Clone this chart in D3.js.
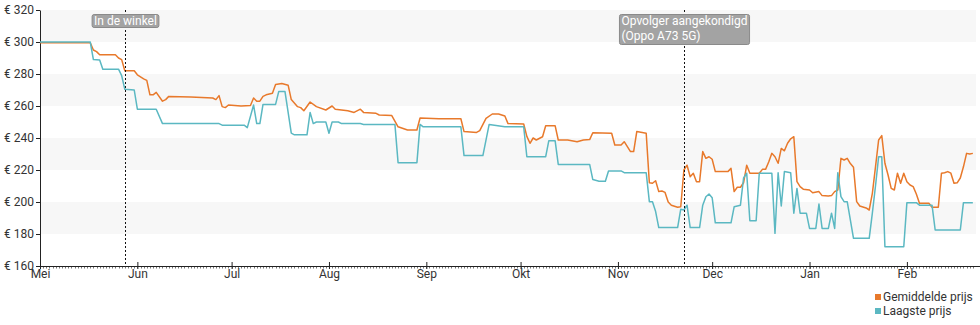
<!DOCTYPE html>
<html><head><meta charset="utf-8">
<script src="https://cdn.jsdelivr.net/npm/d3@7"></script>
<style>body{margin:0;background:#fff}svg{display:block;font-family:Roboto,"Noto Sans",sans-serif}</style>
</head><body><svg id="c" width="980" height="325"></svg>
<script>
const avgPrice = [
["2020-05-01",299.5],["2020-05-17",299.5],["2020-05-18",295],["2020-05-19",294],["2020-05-20",292],["2020-05-25",292],["2020-05-26",290],["2020-05-27",289],["2020-05-28",282],["2020-05-31",282],
["2020-06-01",279.5],["2020-06-03",277],["2020-06-04",276],["2020-06-05",267],["2020-06-06",267],["2020-06-07",268.5],["2020-06-09",263],["2020-06-10",264],["2020-06-11",266],["2020-06-18",265.6],["2020-06-25",265],["2020-06-26",264],["2020-06-27",266.5],["2020-06-28",259.6],["2020-06-29",259],["2020-06-30",260.6],
["2020-07-04",260],["2020-07-07",260.3],["2020-07-08",265],["2020-07-09",263],["2020-07-10",263],["2020-07-11",266],["2020-07-12",267],["2020-07-14",268],["2020-07-15",273.5],["2020-07-17",274],["2020-07-19",273],["2020-07-20",264],["2020-07-22",259.6],["2020-07-23",259],["2020-07-24",257],["2020-07-26",262.5],["2020-07-28",259.6],["2020-07-31",257.5],
["2020-08-02",260],["2020-08-03",258],["2020-08-07",257],["2020-08-09",256],["2020-08-11",258],["2020-08-12",256],["2020-08-16",255.4],["2020-08-17",254.4],["2020-08-21",254],["2020-08-23",247],["2020-08-26",245],["2020-08-29",245],["2020-08-30",252.5],
["2020-09-05",252],["2020-09-12",252],["2020-09-13",244],["2020-09-17",243.5],["2020-09-18",244.6],["2020-09-20",252.3],["2020-09-22",255],["2020-09-24",255],["2020-09-26",253.75],["2020-09-27",249],
["2020-10-02",248.75],["2020-10-03",241],["2020-10-04",236.7],["2020-10-05",240],["2020-10-06",238.75],["2020-10-08",240.8],["2020-10-09",247.7],["2020-10-12",247.7],["2020-10-13",238.75],["2020-10-16",238.75],["2020-10-19",237.7],["2020-10-21",238.75],["2020-10-23",239],["2020-10-24",243.3],["2020-10-30",243],["2020-10-31",235.6],
["2020-11-02",235.6],["2020-11-03",237.7],["2020-11-05",231.5],["2020-11-06",231.5],["2020-11-07",244],["2020-11-10",243],["2020-11-11",212],["2020-11-12",211.7],["2020-11-13",213.3],["2020-11-14",206.5],["2020-11-15",206.9],["2020-11-16",206],["2020-11-17",200],["2020-11-18",198],["2020-11-20",196.7],["2020-11-21",197],["2020-11-22",220],["2020-11-23",223],["2020-11-24",215.8],["2020-11-25",218],["2020-11-26",212.7],["2020-11-27",212.7],["2020-11-28",231.5],["2020-11-29",227.3],["2020-11-30",228.3],
["2020-12-01",226.7],["2020-12-02",219],["2020-12-06",219],["2020-12-07",221],["2020-12-08",206.5],["2020-12-09",209.2],["2020-12-10",209.2],["2020-12-11",212],["2020-12-12",223],["2020-12-13",218],["2020-12-16",218],["2020-12-17",220.4],["2020-12-18",220.4],["2020-12-19",225],["2020-12-20",230.4],["2020-12-21",228.3],["2020-12-22",224.2],["2020-12-23",233.5],["2020-12-24",232],["2020-12-25",236.7],["2020-12-26",239.5],["2020-12-27",240.8],["2020-12-28",212.7],["2020-12-29",209.6],["2020-12-30",208],
["2021-01-01",207.5],["2021-01-02",205.8],["2021-01-04",206.5],["2021-01-05",204],["2021-01-07",203.75],["2021-01-08",204],["2021-01-09",206.5],["2021-01-10",207.5],["2021-01-11",227.3],["2021-01-12",226.25],["2021-01-13",227.3],["2021-01-14",224],["2021-01-15",221.7],["2021-01-16",200.2],["2021-01-17",197.5],["2021-01-19",196.3],["2021-01-20",195],["2021-01-21",205.4],["2021-01-22",222],["2021-01-23",238.75],["2021-01-24",241.5],["2021-01-25",224.2],["2021-01-26",216.9],["2021-01-27",208.5],["2021-01-28",207.5],["2021-01-29",218],["2021-01-30",211.7],["2021-01-31",218],
["2021-02-01",212.7],["2021-02-02",210.6],["2021-02-03",209.6],["2021-02-04",205],["2021-02-05",199.2],["2021-02-08",199.2],["2021-02-09",196.7],["2021-02-11",196.7],["2021-02-12",218],["2021-02-13",218.3],["2021-02-14",219],["2021-02-15",218],["2021-02-16",211.7],["2021-02-17",212],["2021-02-18",215],["2021-02-19",222],["2021-02-20",230.4],["2021-02-21",230],["2021-02-22",230.4]
];
const lowPrice = [
["2020-05-01",300],["2020-05-17",300],["2020-05-18",289],["2020-05-20",288.75],["2020-05-21",283],["2020-05-26",283],["2020-05-27",279],["2020-05-28",270.4],["2020-05-31",270],
["2020-06-01",258],["2020-06-07",258],["2020-06-09",249],["2020-06-27",249],["2020-06-28",248],
["2020-07-05",248],["2020-07-06",246.5],["2020-07-08",260.6],["2020-07-09",249],["2020-07-10",249],["2020-07-11",261],["2020-07-15",261],["2020-07-16",269],["2020-07-18",269],["2020-07-20",243],["2020-07-21",242],["2020-07-25",242],["2020-07-26",256],["2020-07-27",249],["2020-07-28",250],["2020-07-31",250],
["2020-08-01",243],["2020-08-02",250],["2020-08-04",250],["2020-08-05",249],["2020-08-11",249],["2020-08-12",248.5],["2020-08-22",248.5],["2020-08-23",224.6],["2020-08-29",224.6],["2020-08-30",248.5],["2020-08-31",247],
["2020-09-12",247],["2020-09-13",229],["2020-09-19",229],["2020-09-21",248.5],["2020-09-26",247],
["2020-10-02",247],["2020-10-03",228.3],["2020-10-09",228.3],["2020-10-10",238.3],["2020-10-12",238.3],["2020-10-13",223.5],["2020-10-23",223.5],["2020-10-24",214],["2020-10-26",213],["2020-10-28",213],["2020-10-29",219.4],
["2020-11-02",219.4],["2020-11-03",218.3],["2020-11-10",218.3],["2020-11-11",200.2],["2020-11-12",200.2],["2020-11-13",194],["2020-11-14",184],["2020-11-20",184],["2020-11-21",195.5],["2020-11-22",195],["2020-11-23",198],["2020-11-24",184],["2020-11-27",184],["2020-11-28",198],["2020-11-29",203.3],["2020-11-30",205],
["2020-12-01",202.7],["2020-12-02",187],["2020-12-07",187],["2020-12-08",197],["2020-12-10",198],["2020-12-11",215],["2020-12-12",218],["2020-12-13",188.3],["2020-12-15",188.3],["2020-12-16",218],["2020-12-20",218],["2020-12-21",180.4],["2020-12-22",218.3],["2020-12-23",197.5],["2020-12-24",219],["2020-12-26",218.3],["2020-12-27",193],["2020-12-28",208.5],["2020-12-29",193],["2020-12-31",193],
["2021-01-01",183.5],["2021-01-03",183.5],["2021-01-04",198.75],["2021-01-05",183.5],["2021-01-07",183.5],["2021-01-08",193],["2021-01-09",183.5],["2021-01-10",218.3],["2021-01-11",203.3],["2021-01-12",200.2],["2021-01-13",200.2],["2021-01-15",177.3],["2021-01-20",177.3],["2021-01-21",193],["2021-01-22",210],["2021-01-23",228.3],["2021-01-24",228.3],["2021-01-25",172],["2021-01-31",172],
["2021-02-01",199.6],["2021-02-04",199.6],["2021-02-05",198],["2021-02-09",198],["2021-02-10",182.5],["2021-02-18",182.5],["2021-02-19",199.6],["2021-02-22",199.6]
];
const yTicks = [160,180,200,220,240,260,280,300,320];
const bandRanges = [[300,320],[260,280],[220,240],[180,200]];
const monthStarts = ["2020-05-01","2020-06-01","2020-07-01","2020-08-01","2020-09-01","2020-10-01","2020-11-01","2020-12-01","2021-01-01","2021-02-01"];
const monthLabels = ["Mei","Jun","Jul","Aug","Sep","Okt","Nov","Dec","Jan","Feb"];
const annotations = [
  {date:"2020-05-28", lines:["In de winkel"]},
  {date:"2020-11-22", lines:["Opvolger aangekondigd","(Oppo A73 5G)"]}
];
const seriesNames = ["Gemiddelde prijs","Laagste prijs"];
const seriesColors = ["#e8792b","#5bb8c2"];
const domainStart = "2020-05-01", domainEnd = "2021-02-23";

const parse = d3.timeParse("%Y-%m-%d");
const svg = d3.select("#c");
const L = 40, R = 976, T = 10, B = 266;
const x = d3.scaleTime().domain([parse(domainStart), parse(domainEnd)]).range([L, R]);
const y = d3.scaleLinear().domain([160, 320]).range([B, T]);

// bands
svg.append("g").selectAll("rect").data(bandRanges).join("rect")
  .attr("x", L).attr("width", R - L)
  .attr("y", d => y(d[1])).attr("height", d => y(d[0]) - y(d[1]))
  .attr("fill", "#f7f7f7");

// minor day ticks
const days = d3.timeDay.range(parse(domainStart), parse(domainEnd));
svg.append("g").selectAll("line").data(days).join("line")
  .attr("x1", d => Math.round(x(d)) + 0.5).attr("x2", d => Math.round(x(d)) + 0.5)
  .attr("y1", B).attr("y2", B + 2.5).attr("stroke", "#777").attr("stroke-width", 1);

// y axis
const yAxis = svg.append("g").attr("transform", `translate(${L},0)`)
  .call(d3.axisLeft(y).tickValues(yTicks).tickSize(4).tickSizeOuter(0).tickPadding(2).tickFormat(d => "€ " + d));
yAxis.select(".domain").attr("stroke", "#222");
yAxis.selectAll(".tick line").attr("stroke", "#222");
yAxis.selectAll("text").attr("font-size", 12).attr("fill", "#333").attr("font-family", "Roboto, sans-serif");

// x axis
const xAxis = svg.append("g").attr("transform", `translate(0,${B})`)
  .call(d3.axisBottom(x).tickValues(monthStarts.map(parse)).tickFormat((d, i) => monthLabels[i]).tickSize(3).tickSizeOuter(0).tickPadding(0));
xAxis.select(".domain").attr("stroke", "#222").attr("d", `M${L},0.5H980`);
xAxis.selectAll(".tick line").attr("stroke", "#222").attr("y1", -4).attr("y2", 3);
xAxis.selectAll("text").attr("font-size", 12).attr("fill", "#333").attr("font-family", "Roboto, sans-serif");

// lines
const line = d3.line().x(d => x(parse(d[0]))).y(d => y(d[1]));
[avgPrice, lowPrice].forEach((s, i) => {
  svg.append("path").datum(s).attr("d", line).attr("fill", "none")
    .attr("stroke", seriesColors[i]).attr("stroke-width", 1.5).attr("stroke-linejoin", "round");
});

// annotations
annotations.forEach(a => {
  const ax = Math.round(x(parse(a.date))) + 0.5;
  svg.append("line").attr("x1", ax).attr("x2", ax).attr("y1", T).attr("y2", B - 2)
    .attr("stroke", "#111").attr("stroke-width", 1).attr("stroke-dasharray", "2,2");
  const g = svg.append("g");
  const rect = g.append("rect");
  const texts = a.lines.map((t, i) => g.append("text").text(t)
    .attr("font-size", 12).attr("fill", "#fff").attr("y", 25 + i * 15));
  const w = d3.max(texts, t => t.node().getComputedTextLength()) + 4;
  const x0 = ax - w / 2;
  texts.forEach(t => t.attr("x", x0 + 2));
  rect.attr("x", x0).attr("y", 14.5).attr("width", w)
    .attr("height", a.lines.length === 1 ? 13 : 30)
    .attr("rx", 2).attr("fill", "#a3a3a3").attr("stroke", "#8a8a8a").attr("stroke-width", 1);
});

// legend
const lg = svg.append("g");
seriesNames.forEach((n, i) => {
  lg.append("rect").attr("x", 875).attr("y", 294 + i * 14).attr("width", 6).attr("height", 6).attr("fill", seriesColors[i]);
  lg.append("text").attr("x", 883).attr("y", 301 + i * 14).attr("font-size", 12).attr("fill", "#333").text(n);
});
</script></body></html>
